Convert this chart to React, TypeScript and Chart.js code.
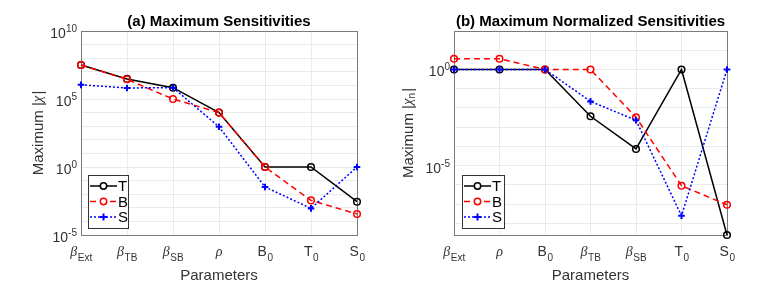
import React, { useEffect, useRef } from "react";
import { Chart, registerables } from "chart.js";
Chart.register(...registerables);

// ---------- data ----------
const leftLabelBase = ["β", "β", "β", "ρ", "B", "T", "S"];
const leftLabelSub = ["Ext", "TB", "SB", "", "0", "0", "0"];
const leftT = [3.2e7, 3.0e6, 6.8e5, 1.0e4, 1, 1, 2.8e-3];
const leftB = [3.2e7, 2.8e6, 1.0e5, 1.0e4, 1, 3.5e-3, 3.5e-4];
const leftS = [1.1e6, 6.5e5, 6.8e5, 9.0e2, 3.4e-2, 9.0e-4, 1];
const leftYMin = 1e-5;
const leftYMax = 1e10;
const leftGridExps = [-5, -4, -3, -2, -1, 0, 1, 2, 3, 4, 5, 6, 7, 8, 9, 10];
const leftTickExps = ["-5", "0", "5", "10"];

const rightLabelBase = ["β", "ρ", "B", "β", "β", "T", "S"];
const rightLabelSub = ["Ext", "", "0", "TB", "SB", "0", "0"];
const rightT = [1, 1, 1, 3.7e-3, 7.4e-5, 1, 2.5e-9];
const rightB = [3.6, 3.6, 1, 1, 3.3e-3, 9.1e-7, 9.3e-8];
const rightS = [1, 1, 1, 2.2e-2, 2.3e-3, 2.5e-8, 1];
const rightYMin = 2.5e-9;
const rightYMax = 1e2;
const rightGridExps = [-8, -7, -6, -5, -4, -3, -2, -1, 0, 1, 2];
const rightTickExps = ["-5", "0"];

const seriesNames = ["T", "B", "S"];

const FONT = '"Liberation Sans", Arial, sans-serif';
const TEXT = "#333333";
const GRID = "#ebebeb";

const decor = {
  id: "decor",
  beforeDatasetsDraw(chart: any) {
    const { ctx, chartArea: ca } = chart;
    ctx.save();
    ctx.strokeStyle = "#7a7a7a";
    ctx.lineWidth = 1;
    ctx.strokeRect(Math.round(ca.left) + 0.5, Math.round(ca.top) + 0.5, Math.round(ca.right - ca.left), Math.round(ca.bottom - ca.top));
    ctx.restore();
  },
  afterDraw(chart: any, _a: any, o: any) {
    const { ctx, chartArea: ca, scales } = chart;
    const cx = (ca.left + ca.right) / 2;
    const cy = (ca.top + ca.bottom) / 2;
    ctx.save();
    ctx.fillStyle = "#000";
    // title
    ctx.font = `bold 15px ${FONT}`;
    ctx.textAlign = "center";
    ctx.textBaseline = "alphabetic";
    ctx.fillText(o.title, cx, 26);
    // y tick labels
    ctx.fillStyle = TEXT;
    for (const e of o.tickExps) {
      const y = scales.y.getPixelForValue(Math.pow(10, Number(e)));
      ctx.font = `10px ${FONT}`;
      const sw = ctx.measureText(e).width;
      const right = ca.left - 4;
      ctx.textAlign = "right";
      ctx.fillText(e, right, y + 1);
      ctx.font = `14px ${FONT}`;
      ctx.fillText("10", right - sw, y + 7);
    }
    // x tick labels
    const labels = chart.data.labels;
    for (let i = 0; i < labels.length; i++) {
      const x = scales.x.getPixelForValue(i);
      const base = o.base[i];
      const sub = o.sub[i];
      const greek = /[α-ω]/.test(base);
      const bf = greek ? `italic 14px "Liberation Serif", serif` : `14px ${FONT}`;
      ctx.font = bf;
      const bw = ctx.measureText(base).width;
      ctx.font = `10px ${FONT}`;
      const sw = sub ? ctx.measureText(sub).width : 0;
      const tot = bw + sw;
      const x0 = x - tot / 2;
      ctx.textAlign = "left";
      ctx.font = bf;
      ctx.fillText(base, x0, ca.bottom + 21);
      if (sub) {
        ctx.font = `10px ${FONT}`;
        ctx.fillText(sub, x0 + bw + 0.5, ca.bottom + 26);
      }
    }
    // x axis title
    ctx.font = `15px ${FONT}`;
    ctx.textAlign = "center";
    ctx.fillText("Parameters", cx, 280);
    // y axis title
    ctx.save();
    ctx.translate(o.ylabelX, cy);
    ctx.rotate(-Math.PI / 2);
    ctx.textBaseline = "middle";
    const main = "Maximum |";
    ctx.font = `15px ${FONT}`;
    const mw = ctx.measureText(main).width;
    ctx.font = `italic 15px "Liberation Serif", serif`;
    const chiW = ctx.measureText("χ").width;
    ctx.font = `10px ${FONT}`;
    const subW = o.ysub ? ctx.measureText(o.ysub).width : 0;
    ctx.font = `15px ${FONT}`;
    const barW = ctx.measureText("|").width;
    const total = mw + chiW + subW + barW + 1;
    let xx = -total / 2;
    ctx.textAlign = "left";
    ctx.fillText(main, xx, 0);
    xx += mw;
    ctx.font = `italic 15px "Liberation Serif", serif`;
    ctx.fillText("χ", xx, 0);
    xx += chiW;
    if (o.ysub) {
      ctx.font = `10px ${FONT}`;
      ctx.fillText(o.ysub, xx, 4);
      xx += subW;
    }
    ctx.font = `15px ${FONT}`;
    ctx.fillText("|", xx + 1, 0);
    ctx.restore();
    // legend
    const lx = o.legend[0], ly = o.legend[1], lw = o.legend[2], lh = 53;
    ctx.fillStyle = "#fff";
    ctx.fillRect(lx, ly, lw, lh);
    ctx.strokeStyle = "#333";
    ctx.lineWidth = 1;
    ctx.strokeRect(lx + 0.5, ly + 0.5, lw, lh);
    const rows = [11, 26.5, 42];
    chart.data.datasets.forEach((ds: any, i: number) => {
      const y = ly + rows[i];
      ctx.save();
      ctx.strokeStyle = ds.borderColor;
      ctx.lineWidth = ds.borderWidth;
      ctx.setLineDash(ds.borderDash || []);
      ctx.beginPath();
      ctx.moveTo(lx + 2, y);
      ctx.lineTo(lx + 29, y);
      ctx.stroke();
      ctx.setLineDash([]);
      ctx.lineWidth = ds.pointBorderWidth;
      const mx = lx + 15.5;
      ctx.beginPath();
      if (ds.pointStyle === "cross") {
        ctx.moveTo(mx - 3.5, y);
        ctx.lineTo(mx + 3.5, y);
        ctx.moveTo(mx, y - 3.5);
        ctx.lineTo(mx, y + 3.5);
      } else {
        ctx.arc(mx, y, 3.2, 0, Math.PI * 2);
        ctx.fillStyle = "#fff";
        ctx.fill();
      }
      ctx.stroke();
      ctx.restore();
      ctx.fillStyle = "#000";
      ctx.font = `15px ${FONT}`;
      ctx.textAlign = "left";
      ctx.textBaseline = "middle";
      ctx.fillText(ds.label, lx + 30, y + 1);
      ctx.textBaseline = "alphabetic";
    });
    ctx.restore();
  },
};

function makeDatasets(t: number[], b: number[], s: number[]) {
  const common = { fill: false, tension: 0, borderWidth: 1.5, pointRadius: 3.3, pointBorderWidth: 1.5, clip: false as any };
  return [
    { ...common, label: seriesNames[0], data: t, borderColor: "#000", pointBorderColor: "#000", pointBackgroundColor: "rgba(0,0,0,0)", pointStyle: "circle", order: 3 },
    { ...common, label: seriesNames[1], data: b, borderColor: "#ff0000", pointBorderColor: "#ff0000", pointBackgroundColor: "rgba(0,0,0,0)", pointStyle: "circle", borderDash: [6, 4], order: 2 },
    { ...common, label: seriesNames[2], data: s, borderColor: "#0000ff", pointBorderColor: "#0000ff", pointBackgroundColor: "#0000ff", pointStyle: "cross", borderDash: [2, 2], pointBorderWidth: 2, order: 1 },
  ];
}

function ChartPanel(props: any) {
  const ref = useRef<HTMLCanvasElement>(null);
  useEffect(() => {
    const gridExps: number[] = props.gridExps;
    const chart = new Chart(ref.current as HTMLCanvasElement, {
      type: "line",
      data: {
        labels: props.base.map((b: string, i: number) => b + props.sub[i]),
        datasets: makeDatasets(props.t, props.b, props.s) as any,
      },
      options: {
        responsive: false,
        animation: false,
        events: [],
        layout: { padding: props.padding },
        plugins: {
          legend: { display: false },
          title: { display: false },
          tooltip: { enabled: false },
          decor: {
            title: props.title,
            tickExps: props.tickExps,
            base: props.base,
            sub: props.sub,
            ylabelX: props.ylabelX,
            ysub: props.ysub,
            legend: props.legend,
          },
        } as any,
        scales: {
          x: {
            type: "category",
            offset: false,
            ticks: { display: false },
            grid: { color: GRID, drawTicks: false, lineWidth: 1 },
            border: { display: false },
            afterFit: (s: any) => { s.height = 0; },
          },
          y: {
            type: "logarithmic",
            min: props.yMin,
            max: props.yMax,
            ticks: { display: false },
            grid: { color: GRID, drawTicks: false, lineWidth: 1 },
            border: { display: false },
            afterBuildTicks: (s: any) => {
              s.ticks = gridExps.map((e) => ({ value: Math.pow(10, e) }));
            },
            afterFit: (s: any) => { s.width = 0; },
          },
        } as any,
      },
      plugins: [decor],
    });
    return () => chart.destroy();
  }, []);
  return (
    <canvas
      ref={ref}
      width={382}
      height={293}
      style={{ position: "absolute", left: props.left, top: 0, width: 382, height: 293 }}
    />
  );
}

export default function App() {
  return (
    <div style={{ position: "fixed", left: 0, top: 0, width: 764, height: 293, background: "#fff", overflow: "hidden" }}>
      <ChartPanel
        left={0}
        title="(a) Maximum Sensitivities"
        base={leftLabelBase}
        sub={leftLabelSub}
        t={leftT}
        b={leftB}
        s={leftS}
        yMin={leftYMin}
        yMax={leftYMax}
        gridExps={leftGridExps}
        tickExps={leftTickExps}
        padding={{ left: 81, right: 25, top: 31, bottom: 58 }}
        ylabelX={38.5}
        ysub=""
        legend={[88, 175, 40]}
      />
      <ChartPanel
        left={382}
        title="(b) Maximum Normalized Sensitivities"
        base={rightLabelBase}
        sub={rightLabelSub}
        t={rightT}
        b={rightB}
        s={rightS}
        yMin={rightYMin}
        yMax={rightYMax}
        gridExps={rightGridExps}
        tickExps={rightTickExps}
        padding={{ left: 72, right: 37, top: 31, bottom: 58 }}
        ylabelX={26.5}
        ysub="n"
        legend={[80, 175, 42]}
      />
    </div>
  );
}
